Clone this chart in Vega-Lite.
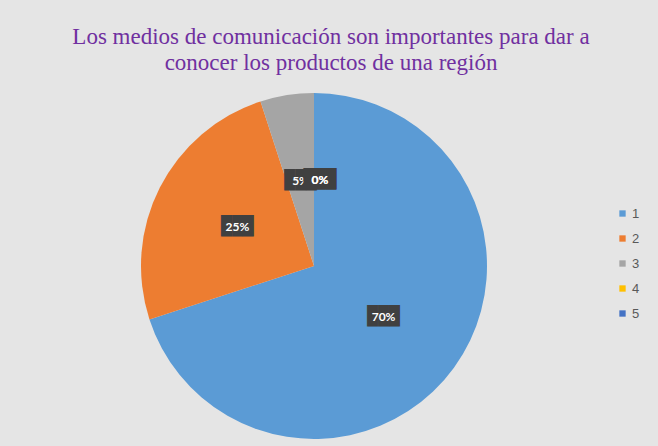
{
  "$schema": "https://vega.github.io/schema/vega-lite/v6.json",
  "width": 628,
  "height": 346,
  "autosize": {"type": "none"},
  "padding": {"left": 0, "top": 93, "right": 30, "bottom": 7},
  "background": "#e5e5e5",
  "config": {"view": {"stroke": null}},
  "title": {
    "text": ["Los medios de comunicación son importantes para dar a", "conocer los productos de una región"],
    "font": "'Liberation Serif', 'Times New Roman', serif",
    "fontSize": 23,
    "fontWeight": "normal",
    "color": "#7030A0",
    "anchor": "middle",
    "dx": 17,
    "offset": 18,
    "lineHeight": 26
  },
  "data": {
    "values": [
      {"cat": "1", "value": 70, "label": "70%"},
      {"cat": "2", "value": 25, "label": "25%"},
      {"cat": "3", "value": 5, "label": "5%"},
      {"cat": "4", "value": 0, "label": "0%"},
      {"cat": "5", "value": 0, "label": "0%"}
    ]
  },
  "encoding": {
    "theta": {"field": "value", "type": "quantitative", "stack": true},
    "order": {"field": "cat", "type": "ordinal"},
    "detail": {"field": "cat", "type": "nominal"}
  },
  "layer": [
    {
      "mark": {"type": "arc", "outerRadius": 173},
      "encoding": {
        "color": {
          "field": "cat",
          "type": "nominal",
          "scale": {"domain": ["1", "2", "3", "4", "5"], "range": ["#5B9BD5", "#ED7D31", "#A5A5A5", "#FFC000", "#4472C4"]},
          "legend": {
            "title": null,
            "orient": "none",
            "legendX": 616,
            "legendY": 114,
            "symbolType": "square",
            "symbolSize": 40,
            "symbolStrokeWidth": 0,
            "labelFontSize": 13,
            "labelOffset": 3,
            "labelFont": "Liberation Sans",
            "labelColor": "#595959",
            "rowPadding": 11
          }
        }
      }
    },
    {
      "mark": {"type": "text", "radius": 86, "font": "DejaVu Sans Mono", "fontSize": 18, "baseline": "middle", "align": "center", "fill": "#404040"},
      "encoding": {
        "text": {"value": "███"},
        "opacity": {"condition": {"test": "datum.value == 0", "value": 0}, "value": 1}
      }
    },
    {
      "mark": {"type": "text", "radius": 86, "font": "Lato", "fontSize": 12, "fontWeight": "bold", "baseline": "middle", "align": "center", "fill": "white"},
      "encoding": {
        "text": {"field": "label"},
        "opacity": {"condition": {"test": "datum.value == 0", "value": 0}, "value": 1}
      }
    },
    {
      "mark": {"type": "text", "radius": 86, "dx": 6, "font": "DejaVu Sans Mono", "fontSize": 18, "baseline": "middle", "align": "center", "fill": "#404040"},
      "encoding": {
        "text": {"value": "███"},
        "opacity": {"condition": {"test": "datum.value == 0", "value": 1}, "value": 0}
      }
    },
    {
      "mark": {"type": "text", "radius": 86, "dx": 6, "font": "Lato", "fontSize": 12, "fontWeight": "bold", "baseline": "middle", "align": "center", "fill": "white"},
      "encoding": {
        "text": {"field": "label"},
        "opacity": {"condition": {"test": "datum.value == 0", "value": 1}, "value": 0}
      }
    }
  ]
}
